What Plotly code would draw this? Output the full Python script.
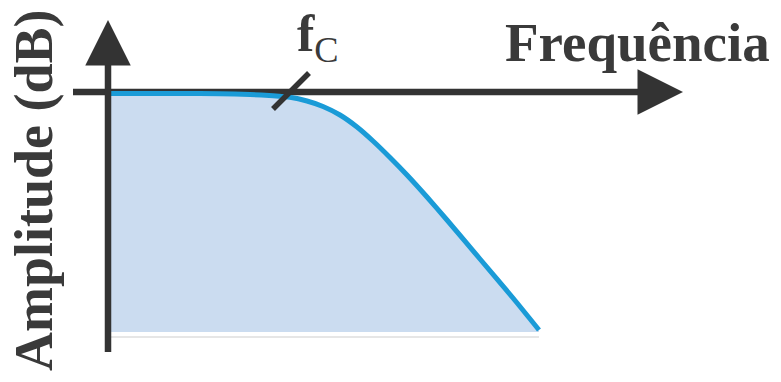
import plotly.graph_objects as go

# 저역통과 응답 (x: 주파수, y: 진폭), 원점 = 축 교차점
freq = [2, 72, 112, 142, 165, 182, 199, 215, 232, 249, 265, 282, 299, 319, 339, 372, 405, 431]
gain = [-1.5, -1.5, -1.8, -2.5, -3.8, -5.3, -9, -14.5, -23, -35, -49, -65.5, -83, -105, -128, -167, -206, -238]

# 축 범위 (선 끝, 화살촉 끝)
x_line = [-35, 555]
x_tip = 575
y_line = [-260, 52]
y_tip = 72
floor_y = -240
floor_line_y = -245

# f_c 표시
fc_x = [165, 201]
fc_y = [-17, 19]

AXIS = '#333333'
TEXT = '#3a3a3a'
FONT = 'Liberation Serif'

fig = go.Figure()

# 채우기 (선 없음)
fig.add_trace(go.Scatter(x=[freq[0] - 2, freq[-1]], y=[floor_y, floor_y], mode='lines',
                         line=dict(width=0, color='rgba(0,0,0,0)'), hoverinfo='skip'))
fig.add_trace(go.Scatter(x=freq, y=gain, mode='lines', fill='tonexty',
                         fillcolor='#cbdcf0', line=dict(width=0, color='rgba(0,0,0,0)',
                                                        shape='spline', smoothing=0.5),
                         hoverinfo='skip'))
fig.add_trace(go.Scatter(x=[freq[0], freq[-1]], y=[floor_line_y, floor_line_y], mode='lines',
                         line=dict(color='#dedede', width=1.5), hoverinfo='skip'))

# 가로축 (곡선 아래)
fig.add_trace(go.Scatter(x=x_line, y=[0, 0], mode='lines',
                         line=dict(color=AXIS, width=6.5), hoverinfo='skip'))

# 응답 곡선
fig.add_trace(go.Scatter(x=freq, y=gain, mode='lines',
                         line=dict(color='#1a9bd7', width=5, shape='spline', smoothing=0.5),
                         hoverinfo='skip'))

# 세로축 (곡선 위)
fig.add_trace(go.Scatter(x=[0, 0], y=y_line, mode='lines',
                         line=dict(color=AXIS, width=6.5), hoverinfo='skip'))

# f_c 눈금
fig.add_trace(go.Scatter(x=fc_x, y=fc_y, mode='lines',
                         line=dict(color=AXIS, width=5.5), hoverinfo='skip'))

# 화살촉
for tip, tail in [((0, y_tip), (0, y_tip - 25)),
                  ((x_tip, 0), (x_tip - 25, 0))]:
    fig.add_annotation(x=tip[0], y=tip[1], ax=tail[0], ay=tail[1],
                       xref='x', yref='y', axref='x', ayref='y', text='',
                       showarrow=True, arrowhead=2, arrowsize=1.4,
                       arrowwidth=6.5, arrowcolor=AXIS, standoff=0)

fig.add_annotation(x=664, y=50, xref='x', yref='y', text='<b>Frequência</b>',
                   showarrow=False, xanchor='right', yanchor='middle',
                   font=dict(family=FONT, size=55, color=TEXT))
fig.add_annotation(x=210, y=55, xref='x', yref='y', text='<b>f</b><sub>C</sub>',
                   showarrow=False, xanchor='center', yanchor='middle',
                   font=dict(family=FONT, size=52, color=TEXT))
fig.add_annotation(x=-74, y=-98, xref='x', yref='y', text='<b>Amplitude (dB)</b>',
                   showarrow=False, textangle=-90, xanchor='center', yanchor='middle',
                   font=dict(family=FONT, size=54, color=TEXT))

fig.update_xaxes(range=[-108, 673], visible=False, fixedrange=True)
fig.update_yaxes(range=[-290, 92], visible=False, fixedrange=True)
fig.update_layout(width=781, height=382, margin=dict(l=0, r=0, t=0, b=0),
                  paper_bgcolor='white', plot_bgcolor='white', showlegend=False)

# 페이지 기본 여백 제거, 모드바 숨김
fig.write_html("out.html", config={'displayModeBar': False},
               post_script="document.body.style.margin='0';")
